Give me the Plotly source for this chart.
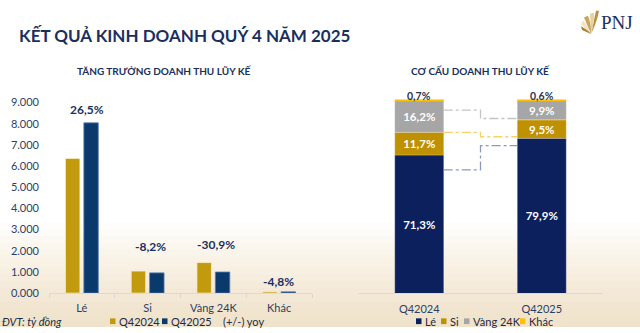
import plotly.graph_objects as go

W, H = 640, 333

# ---------------- data ----------------
categories = ["Lé", "Si", "Vàng 24K", "Khác"]
rev_q42024 = [6355, 1040, 1440, 63]
rev_q42025 = [8040, 955, 995, 60]
yoy_labels = ["26,5%", "-8,2%", "-30,9%", "-4,8%"]

periods = ["Q42024", "Q42025"]
share_le = [71.3, 79.9]
share_si = [11.7, 9.5]
share_vang = [16.2, 9.9]
share_khac = [0.7, 0.6]

y_tick_vals = [0, 1000, 2000, 3000, 4000, 5000, 6000, 7000, 8000, 9000]
y_tick_text = [f"{v // 1000}.{v % 1000:03d}" for v in y_tick_vals]

title_text = "KẾT QUẢ KINH DOANH QUÝ 4 NĂM 2025"
left_title = "TĂNG TRƯỞNG DOANH THU LŨY KẾ"
right_title = "CƠ CẤU DOANH THU LŨY KẾ"

# ---------------- styles ----------------
NAVY_TXT = "#1b2f5e"
GOLD = "#c19a0e"
NAVY = "#0a3a6b"
R_NAVY = "#0c205e"
R_GOLD = "#bf9000"
R_GRAY = "#a6a6a6"
R_YEL = "#ffc000"
FONT = "Lato"


def px(x):
    return x / W


def py(y):
    return 1 - y / H


def pct(v):
    return f"{v:.1f}".replace(".", ",") + "%"


fig = go.Figure()

# ---- left chart: grouped bars ----
fig.add_trace(go.Bar(
    x=categories, y=rev_q42024, name="Q42024", xaxis="x", yaxis="y",
    width=0.22, offset=-0.25, marker=dict(color=GOLD, line=dict(color="rgba(255,240,200,0.9)", width=0.8)),
    showlegend=False, hoverinfo="x+y"))
fig.add_trace(go.Bar(
    x=categories, y=rev_q42025, name="Q42025", xaxis="x", yaxis="y",
    width=0.22, offset=0.03, marker=dict(color=NAVY, line=dict(color="#5a7fb5", width=0.8)),
    showlegend=False, hoverinfo="x+y"))

# ---- right chart: 100% stacked bars (via base) ----
xi = list(range(len(periods)))
base_si = share_le
base_vang = [a + b for a, b in zip(share_le, share_si)]
base_khac = [a + b + c for a, b, c in zip(share_le, share_si, share_vang)]
seg = [
    ("Lé", share_le, [0, 0], R_NAVY, "white"),
    ("Si", share_si, base_si, R_GOLD, "white"),
    ("Vàng 24K", share_vang, base_vang, R_GRAY, "white"),
]
for name, vals, base, col, tcol in seg:
    fig.add_trace(go.Bar(
        x=xi, y=vals, base=base, name=name, xaxis="x2", yaxis="y2",
        width=0.4, offset=-0.2, marker=dict(color=col, line=dict(color="rgba(255,255,255,0.5)", width=0.5)),
        text=[pct(v) for v in vals], textposition="inside", insidetextanchor="middle",
        textangle=0, constraintext="none",
        textfont=dict(family=FONT, size=11.5, color=tcol, weight="bold"),
        showlegend=False))
fig.add_trace(go.Bar(
    x=xi, y=share_khac, base=base_khac, name="Khác", xaxis="x2", yaxis="y2",
    width=0.4, offset=-0.2, marker=dict(color=R_YEL, line=dict(width=0)),
    textposition="none", showlegend=False))

# connector lines (decorative dash-dot)
connectors = [
    ([94.4, 94.4, 90.1, 90.1], "#c4c4c4"),
    ([83.0, 83.0, 80.7, 80.7], "#f5d36a"),
    ([63.7, 63.7, 76.1, 76.1], "#8a9bbd"),
]
for ys, col in connectors:
    fig.add_trace(go.Scatter(
        x=[0.2, 0.5, 0.5, 0.8], y=ys, xaxis="x2", yaxis="y2", mode="lines",
        line=dict(color=col, width=1.3, dash="dashdot"), showlegend=False, hoverinfo="skip"))

annotations = []
shapes = []

# background gradient at bottom
N = 16
for i in range(N):
    top = 225 + i * (333 - 225) / N
    shapes.append(dict(type="rect", xref="paper", yref="paper", x0=0, x1=1, y0=0, y1=py(top),
                       fillcolor="rgba(238,220,170,0.045)", line=dict(width=0), layer="below"))

# yoy labels
yshifts = [13, 25, 18, 10]
xshifts = [5, 3, 3, -1]
for c, a, b, lab, ys, xs in zip(categories, rev_q42024, rev_q42025, yoy_labels, yshifts, xshifts):
    annotations.append(dict(x=c, y=max(a, b), xref="x", yref="y", text=lab, showarrow=False,
                            yanchor="middle", yshift=ys, xshift=xs,
                            font=dict(family=FONT, size=12, color=NAVY_TXT, weight="bold")))

# Khác labels on right chart
for i, (b, v) in enumerate(zip(base_khac, share_khac)):
    annotations.append(dict(x=i, y=b + v, xref="x2", yref="y2", text=pct(v), showarrow=False,
                            yanchor="middle", yshift=3, borderpad=0,
                            font=dict(family=FONT, size=10.5, color="#2a3550", weight="bold")))

# titles
annotations.append(dict(x=px(17), y=py(30), xref="paper", yref="paper", text=title_text,
                        showarrow=False, xanchor="left", yanchor="middle",
                        font=dict(family=FONT, size=17, color=NAVY_TXT, weight="bold")))
annotations.append(dict(x=px(164), y=py(67), xref="paper", yref="paper", text=left_title,
                        showarrow=False, xanchor="center", yanchor="middle",
                        font=dict(family=FONT, size=10, color=NAVY_TXT, weight="bold")))
annotations.append(dict(x=px(480), y=py(67), xref="paper", yref="paper", text=right_title,
                        showarrow=False, xanchor="center", yanchor="middle",
                        font=dict(family=FONT, size=10, color=NAVY_TXT, weight="bold")))

# logo
annotations.append(dict(x=px(599), y=py(16), xref="paper", yref="paper", text="PNJ",
                        showarrow=False, xanchor="left", yanchor="middle",
                        font=dict(family="Liberation Serif", size=19, color=NAVY_TXT)))
base_pt = (591, 28)
tips = [((599, 4), (596, 4)), ((594, 6), (590, 7)), ((588, 9), (584, 11)),
        ((583, 14), (581, 18)), ((581, 20), (582, 24))]
fan_cols = ["#b8923e", "#e6d2a0", "#c9a65c", "#efe3c4", "#a9823a"]
for (t1, t2), col in zip(tips, fan_cols):
    path = (f"M{px(base_pt[0])},{py(base_pt[1])} "
            f"Q{px((base_pt[0] + t1[0]) / 2 + 2)},{py((base_pt[1] + t1[1]) / 2)} {px(t1[0])},{py(t1[1])} "
            f"L{px(t2[0])},{py(t2[1])} Z")
    shapes.append(dict(type="path", xref="paper", yref="paper", path=path,
                       fillcolor=col, line=dict(width=0)))

# bottom legends / notes
leg_font = dict(family=FONT, size=11, color="#1f2a44")
annotations.append(dict(x=px(0), y=py(327), xref="paper", yref="paper", text="<i>ĐVT: tỷ đồng</i>",
                        showarrow=False, xanchor="left", yanchor="middle", font=leg_font))
legend_items = [
    (110, GOLD, "Q42024"), (162, NAVY, "Q42025"),
    (416, R_NAVY, "Lé"), (441, R_GOLD, "Si"), (464, R_GRAY, "Vàng 24K"), (520, R_YEL, "Khác"),
]
for x0, col, lab in legend_items:
    shapes.append(dict(type="rect", xref="paper", yref="paper", x0=px(x0), x1=px(x0 + 5.5),
                       y0=py(330), y1=py(324), fillcolor=col, line=dict(width=0)))
    annotations.append(dict(x=px(x0 + 6.5), y=py(327), xref="paper", yref="paper", text=lab,
                            showarrow=False, xanchor="left", yanchor="middle", font=leg_font))
annotations.append(dict(x=px(221), y=py(327), xref="paper", yref="paper", text="(+/-) yoy",
                        showarrow=False, xanchor="left", yanchor="middle", font=leg_font))

fig.update_layout(
    width=W, height=H, margin=dict(l=0, r=0, t=0, b=0),
    paper_bgcolor="white", plot_bgcolor="rgba(0,0,0,0)",
    barmode="group", showlegend=False,
    font=dict(family=FONT, color=NAVY_TXT),
    xaxis=dict(domain=[px(49), px(312)], type="category", showline=True, linecolor="#d9d9d9",
               linewidth=1, ticks="outside", tickson="boundaries", ticklen=4, tickcolor="#d9d9d9",
               ticklabelstandoff=5,
               tickfont=dict(family=FONT, size=11, color="#2b3f66"), showgrid=False, zeroline=False,
               fixedrange=True),
    yaxis=dict(domain=[py(297.7), py(99.4)], range=[0, 9000], tickvals=y_tick_vals, ticktext=y_tick_text,
               showgrid=False, zeroline=False, showline=False, ticks="", ticklabelstandoff=9,
               tickfont=dict(family=FONT, size=11, color="#2b3f66"), fixedrange=True),
    xaxis2=dict(domain=[px(358), px(603)], range=[-0.5, 1.5], tickvals=xi, ticktext=periods,
                showline=True, linecolor="#d9d9d9", linewidth=1, ticks="", showgrid=False,
                ticklabelstandoff=6,
                zeroline=False, tickfont=dict(family=FONT, size=11, color="#2b3f66"), fixedrange=True),
    yaxis2=dict(domain=[py(298.3), py(96)], range=[0, 100], showticklabels=False, showgrid=False,
                zeroline=False, showline=False, ticks="", anchor="x2", fixedrange=True),
    annotations=annotations, shapes=shapes,
)

fig.write_html("out.html")
